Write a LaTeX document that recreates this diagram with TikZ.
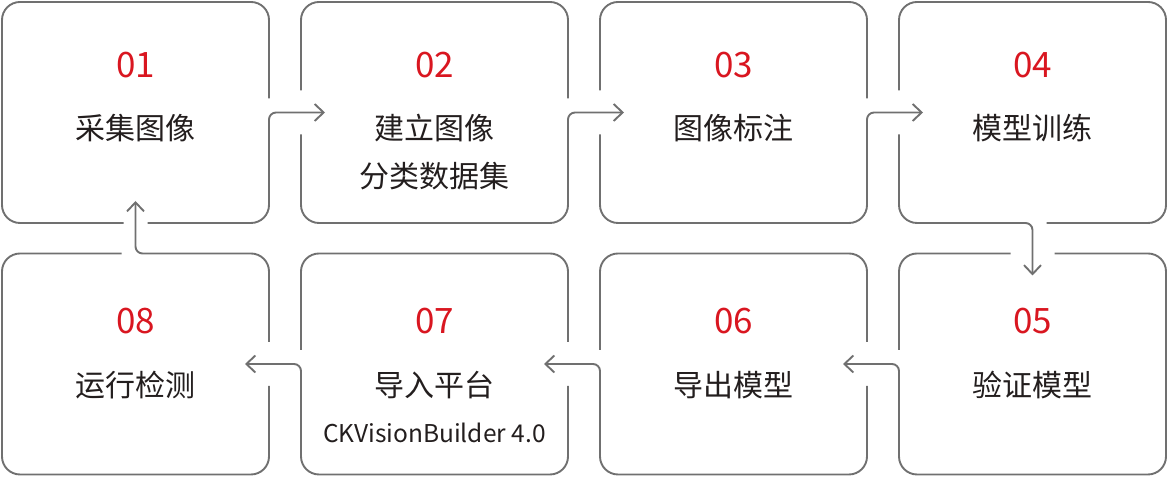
\documentclass[tikz,border=0pt]{standalone}
\usepackage{fontspec}
\newfontfamily\cjk{Noto Sans CJK SC}
\usetikzlibrary{arrows.meta}
\definecolor{linegray}{RGB}{112,112,112}
\definecolor{numred}{RGB}{217,22,32}
\definecolor{textdark}{RGB}{35,30,30}
\begin{document}
\begin{tikzpicture}[x=1pt, y=1pt,
      box/.style={minimum width=267pt, minimum height=221pt, inner sep=0pt, outer sep=0pt},
      num/.style={text=numred, font=\cjk\fontsize{35}{35}\selectfont, inner sep=0pt},
      lbl/.style={text=textdark, font=\cjk\fontsize{30}{30}\selectfont, inner sep=0pt},
      sub/.style={text=textdark, font=\cjk\fontsize{24.5}{24.5}\selectfont, inner sep=0pt},
      outline/.style={draw=linegray, line width=1.9pt, rounded corners=18pt},
      >={Straight Barb[length=9pt, width=17pt]}]
   \useasboundingbox (0,0) rectangle (1168,478);
   \def \TopRow {
      1/135.5/01/采集图像,
      2/434.5/02/建立图像,
      3/733.5/03/图像标注,
      4/1032.5/04/模型训练}
   \def \BottomRow {
      8/135.5/08/运行检测,
      7/434.5/07/导入平台,
      6/733.5/06/导出模型,
      5/1032.5/05/验证模型}
   \foreach \u / \x / \n / \t in \TopRow {
      \node[box] (b\u) at (\x, 365.5){};
      \node[num] (n\u) at (\x, 413){\n};
      \node[lbl] (t\u) at (\x, 349.5){\t};
   }
   \foreach \u / \x / \n / \t in \BottomRow {
      \node[box] (b\u) at (\x, 114){};
      \node[num] (n\u) at (\x, 157){\n};
      \node[lbl] (t\u) at (\x, 92.5){\t};
   }
   \node[lbl] (t2b) at (434.5, 302){分类数据集};
   \node[sub] (t7b) at (434.5, 45){CKVisionBuilder 4.0};
   % box 1, turns into the arrow to box 2
   \path[outline] ([yshift=14pt]b1.east) -- (b1.north east) -- (b1.north west) -- (b1.south west) -- ([xshift=-12pt]b1.south);
   \path[outline, ->] ([xshift=12pt]b1.south) -- (b1.south east) [rounded corners=7pt] -- (b1.east) -- ([xshift=24pt]b2.west);
   % boxes 2 and 3
   \foreach \u / \v in {2/3, 3/4} {
      \path[outline] ([yshift=22pt]b\u.west) -- (b\u.north west) -- (b\u.north east) -- ([yshift=14pt]b\u.east);
      \path[outline, ->] ([yshift=-22pt]b\u.west) -- (b\u.south west) -- (b\u.south east) [rounded corners=7pt] -- (b\u.east) -- ([xshift=24pt]b\v.west);
   }
   % box 4, down to box 5
   \path[outline] ([yshift=22pt]b4.west) -- (b4.north west) -- (b4.north east) -- (b4.south east) -- ([xshift=14pt]b4.south);
   \path[outline, ->] ([yshift=-22pt]b4.west) -- (b4.south west) [rounded corners=7pt] -- (b4.south) -- ([yshift=-22pt]b5.north);
   % box 5
   \path[outline] ([xshift=-22pt]b5.north) -- (b5.north west) -- ([yshift=14pt]b5.west);
   \path[outline, ->] ([xshift=22pt]b5.north) -- (b5.north east) -- (b5.south east) -- (b5.south west) [rounded corners=7pt] -- (b5.west) -- ([xshift=-24pt]b6.east);
   % boxes 6 and 7
   \foreach \u / \v in {6/7, 7/8} {
      \path[outline] ([yshift=14pt]b\u.west) -- (b\u.north west) -- (b\u.north east) -- ([yshift=22pt]b\u.east);
      \path[outline, ->] ([yshift=-22pt]b\u.east) -- (b\u.south east) -- (b\u.south west) [rounded corners=7pt] -- (b\u.west) -- ([xshift=-24pt]b\v.east);
   }
   % box 8, back up to box 1
   \path[outline] ([yshift=-22pt]b8.east) -- (b8.south east) -- (b8.south west) -- (b8.north west) -- ([xshift=-14pt]b8.north);
   \path[outline, ->] ([yshift=22pt]b8.east) -- (b8.north east) [rounded corners=7pt] -- (b8.north) -- ([yshift=22pt]b1.south);
\end{tikzpicture}
\end{document}
